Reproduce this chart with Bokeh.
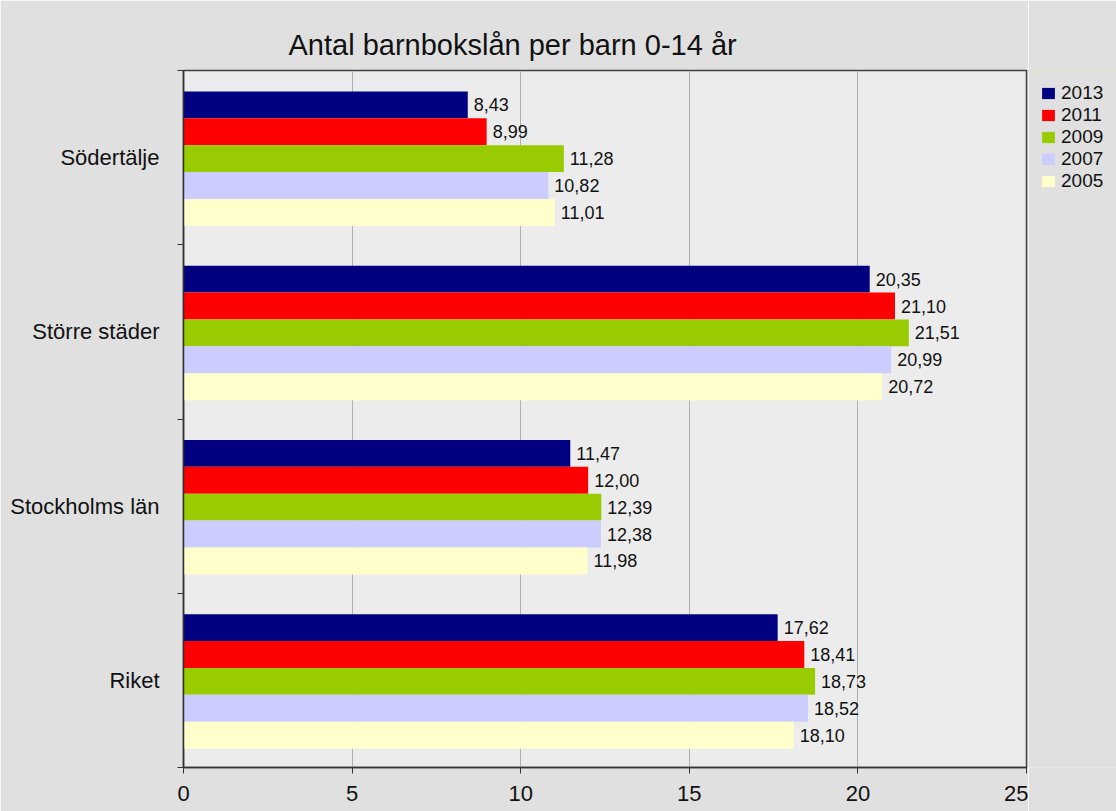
from bokeh.plotting import figure
from bokeh.layouts import row
from bokeh.models import Range1d, FixedTicker, Legend, LegendItem, ColumnDataSource
from bokeh.core.properties import value
from bokeh.embed import file_html
from bokeh.resources import INLINE

categories = ["Södertälje", "Större städer", "Stockholms län", "Riket"]
years = ["2013", "2011", "2009", "2007", "2005"]
v2013 = [8.43, 20.35, 11.47, 17.62]
v2011 = [8.99, 21.10, 12.00, 18.41]
v2009 = [11.28, 21.51, 12.39, 18.73]
v2007 = [10.82, 20.99, 12.38, 18.52]
v2005 = [11.01, 20.72, 11.98, 18.10]
series = [v2013, v2011, v2009, v2007, v2005]
colors = ["#000080", "#ff0000", "#99cc00", "#ccccff", "#ffffcc"]
x_ticks = [0, 5, 10, 15, 20, 25]

FONT = "Liberation Sans"
BG = "#e0e0e0"
n = len(categories)
centers = [n - i - 0.5 for i in range(n)]

p = figure(width=1028, height=811, output_backend="svg", toolbar_location=None,
           x_range=Range1d(0, 25), y_range=Range1d(0, n),
           min_border_left=183, min_border_right=2, min_border_top=68, min_border_bottom=44)

p.border_fill_color = BG
p.background_fill_color = "#ececec"
p.outline_line_color = "#404040"
p.outline_line_width = 1.5

p.title.text = "Antal barnbokslån per barn 0-14 år"
p.title.text_font = FONT
p.title.text_font_size = "29px"
p.title.text_font_style = "normal"
p.title.text_color = "#111111"
p.title.align = "left"
p.title.offset = 105
p.title.standoff = 19

# legend panel (separate narrow figure to the right of the plot)
lp = figure(width=89, height=811, output_backend="svg", toolbar_location=None,
            x_axis_location=None, y_axis_location=None,
            x_range=Range1d(0, 1), y_range=Range1d(-10, -9),
            min_border_left=0, min_border_right=0, min_border_bottom=0, min_border_top=70)
lp.grid.visible = False
lp.outline_line_color = None
lp.border_fill_color = BG
lp.background_fill_color = BG

h = 27 / 175
items = []
for k, (yr, vals, col) in enumerate(zip(years, series, colors)):
    ys = [c + (2 - k) * h - 0.006 for c in centers]
    labels = [f"{v:.2f}".replace(".", ",") for v in vals]
    src = ColumnDataSource(dict(y=ys, right=vals, lab=labels))
    p.hbar(y="y", left=0, right="right", height=h, source=src,
           fill_color=col, line_color=None)
    p.text(x="right", y="y", text="lab", source=src, x_offset=6,
           text_baseline="middle", text_align="left",
           text_font=value(FONT), text_font_size="18px", text_color="#111111")
    # same series in the legend panel (outside its visible range) to carry the legend swatch
    lr = lp.hbar(y="y", left=0, right="right", height=h, source=src,
                 fill_color=col, line_color=None)
    items.append(LegendItem(label=yr, renderers=[lr]))

# x axis
xa = p.xaxis[0]
xa.ticker = FixedTicker(ticks=x_ticks, minor_ticks=[])
xa.major_label_text_font = FONT
xa.major_label_text_font_size = "22px"
xa.major_label_text_color = "#111111"
xa.major_tick_out = 6
xa.major_tick_in = 0
xa.major_tick_line_color = "#333333"
xa.axis_line_color = "#333333"
xa.axis_line_width = 1.5
xa.major_label_standoff = 12

# y axis
ya = p.yaxis[0]
ya.ticker = FixedTicker(ticks=centers, minor_ticks=list(range(n + 1)))
ya.major_label_overrides = {c: cat for c, cat in zip(centers, categories)}
ya.major_label_text_font = FONT
ya.major_label_text_font_size = "22px"
ya.major_label_text_color = "#111111"
ya.major_tick_line_color = None
ya.major_tick_out = 0
ya.major_tick_in = 0
ya.minor_tick_out = 6
ya.minor_tick_in = 0
ya.minor_tick_line_color = "#333333"
ya.axis_line_color = "#333333"
ya.axis_line_width = 1.5
ya.major_label_standoff = 18

p.xgrid.ticker = FixedTicker(ticks=x_ticks)
p.xgrid.grid_line_color = "#b0b0b0"
p.ygrid.grid_line_color = None

legend = Legend(items=items, location="top_left", orientation="vertical")
legend.label_text_font = FONT
legend.label_text_font_size = "19px"
legend.label_text_color = "#111111"
legend.glyph_width = 16
legend.glyph_height = 14
legend.label_height = 14
legend.label_standoff = 5
legend.spacing = 0
legend.padding = 0
legend.margin = 12
legend.border_line_color = None
legend.background_fill_alpha = 0
lp.add_layout(legend, "center")

layout = row(p, lp, spacing=-1)
open("out.html", "w").write(file_html(layout, INLINE))
